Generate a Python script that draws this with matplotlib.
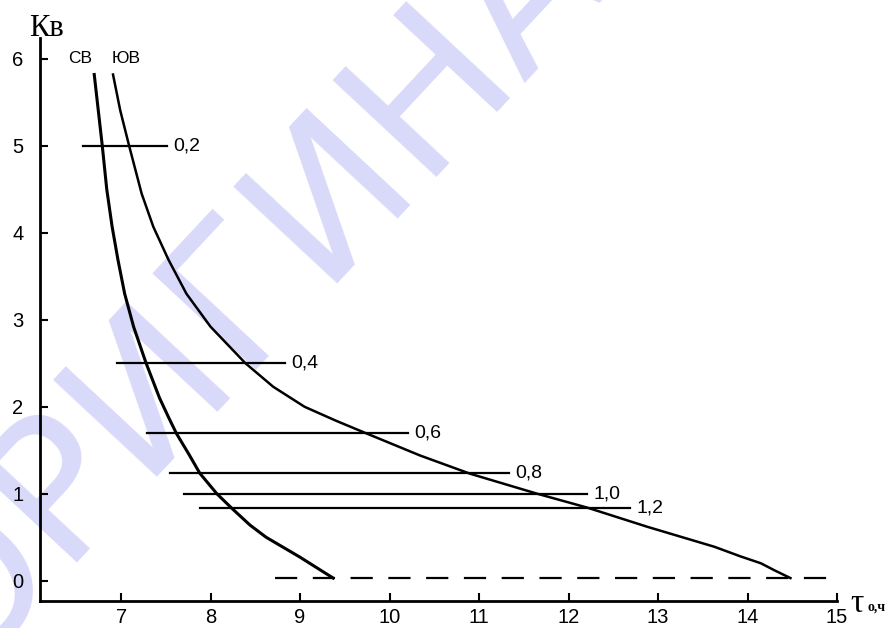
import numpy as np
import matplotlib
matplotlib.use('Agg')
import matplotlib.pyplot as plt

# curves K_в(τ) for two orientations
sv_x = [6.70, 6.745, 6.79, 6.84, 6.90, 6.965, 7.04, 7.14, 7.28, 7.43, 7.53, 7.62, 7.76, 7.88, 8.07, 8.24,
        8.44, 8.62, 9.00, 9.37]
sv_y = [5.82, 5.41, 5.00, 4.50, 4.07, 3.69, 3.30, 2.92, 2.50, 2.10, 1.88, 1.69, 1.45, 1.235, 1.00, 0.83,
        0.64, 0.50, 0.27, 0.03]

yuv_x = [6.91, 6.99, 7.09, 7.23, 7.36, 7.53, 7.73, 8.00, 8.39, 8.70, 9.05, 9.40, 9.75, 10.34, 10.90, 11.65,
         12.21, 12.88, 13.63, 13.92, 14.15, 14.30, 14.48]
yuv_y = [5.82, 5.41, 5.00, 4.45, 4.07, 3.69, 3.30, 2.92, 2.50, 2.23, 2.00, 1.84, 1.69, 1.44, 1.23, 1.00,
         0.84, 0.62, 0.39, 0.28, 0.20, 0.12, 0.03]

# horizontal reference lines
h_labels = ['0,2', '0,4', '0,6', '0,8', '1,0', '1,2']
h_y = [5.0, 2.50, 1.70, 1.235, 1.00, 0.84]
h_x0 = [6.57, 6.96, 7.29, 7.55, 7.70, 7.88]
h_x1 = [7.51, 8.83, 10.21, 11.33, 12.21, 12.69]

dash_x = [8.72, 14.96]
dash_y = [0.03, 0.03]

fig = plt.figure(figsize=(8.93, 6.28), dpi=100)
ax = fig.add_axes([40 / 893, 1 - 600.7 / 628, (837 - 40) / 893, (600.7 - 38) / 628])
ax.set_facecolor('none')

# watermark behind the drawing
ax.text(0.33, 0.62, 'ОРИГИНАЛ', rotation=47, fontsize=140, color='#d9d9f9',
        ha='center', va='center', family='DejaVu Sans', transform=fig.transFigure,
        zorder=0, clip_on=False)

ax.plot(sv_x, sv_y, color='black', lw=2.2, zorder=3)
ax.plot(yuv_x, yuv_y, color='black', lw=1.8, zorder=3)
for lab, y, x0, x1 in zip(h_labels, h_y, h_x0, h_x1):
    ax.plot([x0, x1], [y, y], color='black', lw=1.6, zorder=3)
    ax.text(x1 + 0.07, y, lab, fontsize=14, family='Liberation Sans', va='center', ha='left')
ax.plot(dash_x, dash_y, color='black', lw=1.6, dashes=(10, 7), zorder=3)

ax.text(6.54, 6.0, 'СВ', fontsize=12.5, family='Liberation Sans', ha='center', va='center')
ax.text(7.06, 6.0, 'ЮВ', fontsize=12.5, family='Liberation Sans', ha='center', va='center')

ax.set_xlim(6.094, 15.0)
ax.set_ylim(-0.23, 6.24)
ax.set_xticks(range(7, 16))
ax.set_yticks(range(0, 7))
ax.tick_params(direction='in', length=6, width=1.5, labelsize=14.5)
ax.tick_params(axis='y', pad=12)
ax.tick_params(axis='x', pad=5)
for lbl in ax.get_xticklabels() + ax.get_yticklabels():
    lbl.set_family('Liberation Sans')
for s in ['top', 'right']:
    ax.spines[s].set_visible(False)
for s in ['left', 'bottom']:
    ax.spines[s].set_linewidth(2)

fig.text(29 / 893, 1 - 36 / 628, 'Кв', fontsize=22, family='Liberation Serif', ha='left', va='baseline')
fig.text(850 / 893, 1 - 612 / 628, 'τ', fontsize=24, family='Liberation Serif', ha='left', va='baseline')
fig.text(867 / 893, 1 - 611 / 628, 'о,ч', fontsize=10, family='Liberation Serif', ha='left',
         va='baseline', weight='bold')

fig.savefig('out.png', dpi=100)
